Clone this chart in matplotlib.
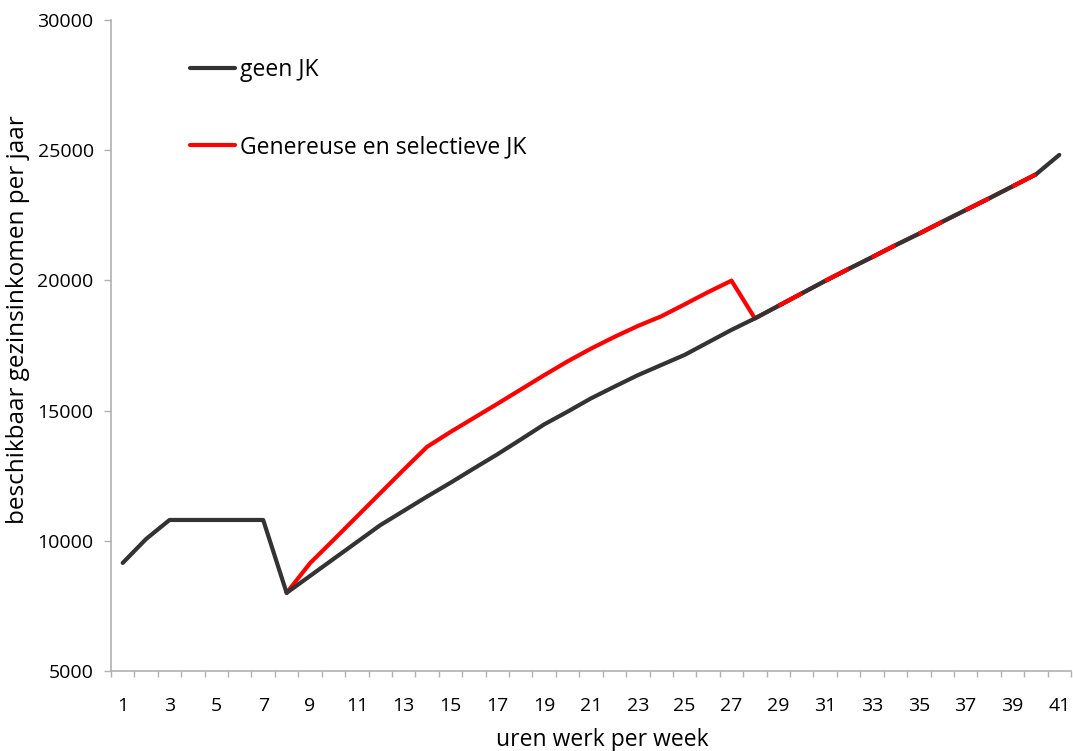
import numpy as np
import matplotlib
matplotlib.use("Agg")
import matplotlib.pyplot as plt

hours = list(range(1, 42))
geen_jk = [9150, 10070, 10800, 10800, 10800, 10800, 10800, 8000,
           8650, 9300, 9950, 10600, 11150, 11700, 12230, 12780, 13320,
           13890, 14470, 14960, 15470, 15920, 16360, 16750, 17140, 17620,
           18100, 18540, 19020, 19500, 19980, 20440, 20890, 21350, 21790,
           22250, 22700, 23150, 23610, 24070, 24820]
genereuse_jk = [np.nan] * 7 + [8000,
                9140, 10030, 10930, 11830, 12730, 13610, 14180, 14720, 15260,
                15810, 16360, 16890, 17380, 17830, 18250, 18620, 19080, 19550,
                19990, 18540, 19020, 19500, 19980, 20440, 20890, 21350, 21790,
                22250, 22700, 23150, 23610, 24070, np.nan]
x_ticklabels = [str(h) for h in hours[::2]]

plt.rcParams['font.family'] = ['Open Sans', 'DejaVu Sans']

fig = plt.figure(figsize=(10.73, 7.51), dpi=100)
ax = fig.add_axes([111/1073, 1 - 671/751, 960/1073, 651/751])

x = np.array(hours, dtype=float)
g = np.array(geen_jk, dtype=float)
r = np.array(genereuse_jk, dtype=float)

black = '#333333'
red = '#ff0000'
lw = 3.0

ax.plot(x, r, color=red, lw=lw, solid_capstyle='round', solid_joinstyle='round',
        label='Genereuse en selectieve JK', zorder=2)
ax.plot(x, g, color=black, lw=lw, solid_capstyle='round', solid_joinstyle='round',
        label='geen JK', zorder=3)
# red drawn over black on alternating overlapping segments
for k in range(29, 41, 2):
    i = k - 1
    seg = r[i:i + 2]
    if not np.any(np.isnan(seg)):
        ax.plot(x[i:i + 2], seg, color=red, lw=lw, solid_capstyle='butt', zorder=4)

ax.set_xlim(0.5, 41.5)
ax.set_ylim(5000, 30000)
ax.set_yticks(np.arange(5000, 30001, 5000))
ax.set_xticks(x[::2])
ax.set_xticklabels(x_ticklabels)
ax.set_xticks(np.arange(0.5, 41.6, 1.0), minor=True)

for s in ['top', 'right']:
    ax.spines[s].set_visible(False)
for s in ['left', 'bottom']:
    ax.spines[s].set_color('#b0b0b0')
    ax.spines[s].set_linewidth(1.2)

ax.tick_params(axis='x', which='major', length=0, pad=19, labelsize=14)
ax.tick_params(axis='x', which='minor', length=4, color='#b0b0b0', width=1)
ax.tick_params(axis='y', which='major', length=5, color='#b0b0b0', width=1,
               labelsize=14, pad=7.5)

ax.set_xlabel('uren werk per week', fontsize=16.5)
ax.xaxis.set_label_coords((602 - 111) / 960, (671 - 740) / 651)
ax.xaxis.label.set_va('center')
ax.set_ylabel('beschikbaar gezinsinkomen per jaar', fontsize=17.5)
ax.yaxis.set_label_coords((18 - 111) / 960, (671 - 320) / 651)
ax.yaxis.label.set_va('center')

handles, labels = ax.get_legend_handles_labels()
order = [1, 0]
leg = ax.legend([handles[i] for i in order], [labels[i] for i in order],
                loc='upper left', bbox_to_anchor=(0.082, 0.942),
                frameon=False, fontsize=16.5, handlelength=1.96,
                handletextpad=0.22, labelspacing=2.33,
                borderpad=0, borderaxespad=0)

fig.savefig('out.png', dpi=100)
